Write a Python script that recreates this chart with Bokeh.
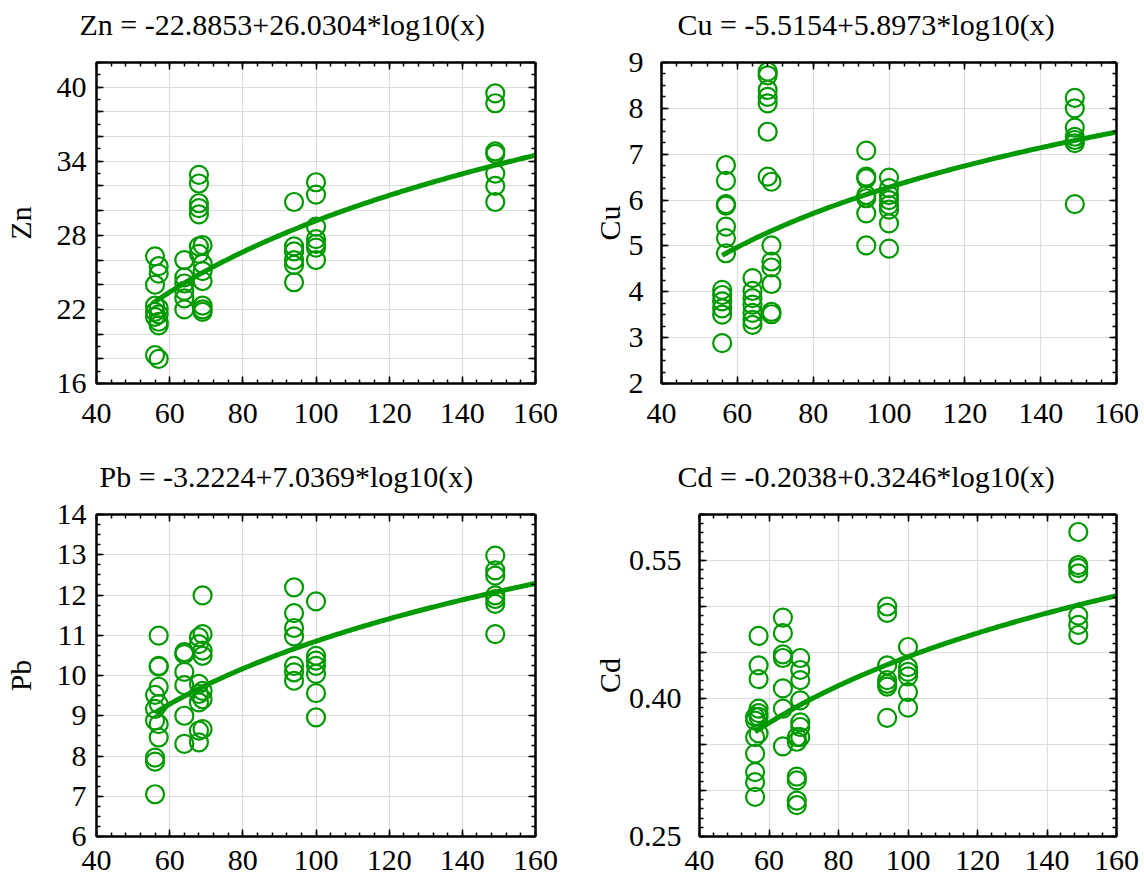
import numpy as np
from bokeh.plotting import figure
from bokeh.models import FixedTicker, LinearAxis, Range1d, Title
from bokeh.layouts import column, row
from bokeh.embed import file_html
from bokeh.resources import INLINE

GREEN = "#009900"
FONT = "Liberation Serif"
FS = "30px"

# ---- data ----
zn_x = [56]*6 + [57]*7 + [64]*6 + [68]*7 + [69]*7 + [94]*6 + [100]*7 + [149]*7
zn_y = [26.3, 24.0, 22.3, 21.8, 21.4, 18.3,
        25.5, 24.9, 22.1, 21.6, 21.0, 20.7, 18.0,
        26.0, 24.6, 24.1, 23.5, 22.9, 22.0,
        32.9, 32.2, 30.6, 30.2, 29.7, 27.1, 26.5,
        27.2, 25.7, 25.1, 24.3, 22.3, 22.0, 21.8,
        30.7, 27.1, 26.7, 26.0, 25.6, 24.2,
        32.3, 31.3, 28.7, 27.7, 27.3, 27.0, 26.0,
        39.5, 38.7, 34.8, 34.6, 33.0, 32.0, 30.7]

cu_x = [56]*6 + [57]*7 + [64]*7 + [68]*7 + [69]*7 + [94]*7 + [100]*8 + [149]*7
cu_y = [4.04, 3.93, 3.79, 3.64, 3.50, 2.88,
        6.76, 6.42, 5.91, 5.88, 5.42, 5.17, 4.84,
        4.30, 4.02, 3.86, 3.72, 3.54, 3.39, 3.28,
        8.80, 8.72, 8.40, 8.25, 8.11, 7.49, 6.51,
        6.40, 5.01, 4.66, 4.53, 4.17, 3.56, 3.51,
        7.08, 6.51, 6.47, 6.11, 6.04, 5.71, 5.01,
        6.49, 6.26, 6.11, 6.00, 5.89, 5.79, 5.49, 4.94,
        8.23, 8.00, 7.58, 7.38, 7.31, 7.24, 5.91]

pb_x = [56]*6 + [57]*7 + [64]*6 + [68]*7 + [69]*7 + [94]*7 + [100]*7 + [149]*7
pb_y = [9.52, 9.17, 8.88, 7.96, 7.86, 7.05,
        10.99, 10.24, 10.22, 9.72, 9.29, 8.79, 8.46,
        10.58, 10.53, 10.09, 9.76, 9.00, 8.30,
        10.95, 10.78, 9.79, 9.54, 9.33, 8.63, 8.34,
        11.99, 11.03, 10.62, 10.49, 9.62, 9.41, 8.67,
        12.19, 11.55, 11.18, 10.97, 10.24, 10.08, 9.87,
        11.84, 10.49, 10.37, 10.24, 10.04, 9.56, 8.96,
        12.98, 12.61, 12.48, 11.99, 11.90, 11.78, 11.03]

cd_x = [56]*7 + [57]*7 + [64]*7 + [68]*6 + [69]*7 + [94]*7 + [100]*6 + [149]*7
cd_y = [0.380, 0.376, 0.358, 0.340, 0.320, 0.309, 0.293,
        0.468, 0.436, 0.421, 0.389, 0.384, 0.380, 0.362,
        0.488, 0.471, 0.448, 0.444, 0.411, 0.389, 0.348,
        0.358, 0.353, 0.315, 0.311, 0.289, 0.284,
        0.444, 0.431, 0.420, 0.398, 0.374, 0.369, 0.358,
        0.500, 0.493, 0.436, 0.420, 0.416, 0.413, 0.379,
        0.456, 0.434, 0.429, 0.424, 0.407, 0.390,
        0.581, 0.545, 0.542, 0.536, 0.490, 0.480, 0.469]

# fit coefficients  y = a + b*log10(x)
zn_fit = [-22.8853, 26.0304]
cu_fit = [-5.5154, 5.8973]
pb_fit = [-3.2224, 7.0369]
cd_fit = [-0.2038, 0.3246]

titles = ["Zn = -22.8853+26.0304*log10(x)", "Cu = -5.5154+5.8973*log10(x)",
          "Pb = -3.2224+7.0369*log10(x)", "Cd = -0.2038+0.3246*log10(x)"]
ylabels = ["Zn", "Cu", "Pb", "Cd"]

X_RANGE = (40, 160)
x_major = [40, 60, 80, 100, 120, 140, 160]


def ticks(lo, hi, step, nd=3):
    n = int(round((hi - lo) / step))
    return [round(lo + i * step, nd) for i in range(n + 1)]


def style_axis(ax, ticker, fmt_over=None, show_labels=True, standoff=12):
    ax.ticker = ticker
    ax.axis_line_color = "black"
    ax.axis_line_width = 2
    ax.major_tick_in = 7
    ax.major_tick_out = 0
    ax.minor_tick_in = 4
    ax.minor_tick_out = 0
    ax.major_tick_line_color = "black"
    ax.major_tick_line_width = 1.5
    ax.minor_tick_line_color = "black"
    ax.minor_tick_line_width = 1.5
    ax.major_label_text_font = FONT
    ax.major_label_text_color = "black"
    ax.major_label_standoff = standoff
    if show_labels:
        ax.major_label_text_font_size = FS
        if fmt_over:
            ax.major_label_overrides = fmt_over
    else:
        # tick marks only: no label text at all
        ax.major_label_text_font_size = "1px"
        ax.major_label_text_color = None
        ax.major_label_standoff = 0
        ax.major_label_overrides = {t: "" for t in ticker.ticks}
    ax.axis_label_text_font = FONT
    ax.axis_label_text_font_size = FS
    ax.axis_label_text_font_style = "normal"
    ax.axis_label_text_color = "black"


def panel(xs, ys, fit, title, ylabel, yr, ymaj, ymin_t, yover, w, h, bl, br, bt, bb,
          toff, xstand, ystand, lstand):
    p = figure(width=w, height=h, x_range=Range1d(*X_RANGE), y_range=Range1d(*yr),
               output_backend="svg", toolbar_location=None,
               min_border_left=bl, min_border_right=br, min_border_top=bt, min_border_bottom=bb)
    p.title = Title(text=title, align="left", offset=toff, standoff=0, text_font=FONT,
                    text_font_size=FS, text_font_style="normal", text_color="black")
    xt = FixedTicker(ticks=x_major, minor_ticks=ticks(40, 160, 4))
    yt = FixedTicker(ticks=ymaj, minor_ticks=ymin_t)
    style_axis(p.xaxis[0], xt, standoff=xstand)
    style_axis(p.yaxis[0], yt, fmt_over=yover, standoff=ystand)
    p.yaxis[0].axis_label = ylabel
    p.yaxis[0].axis_label_standoff = lstand
    # top axis: tick marks only
    top = LinearAxis()
    style_axis(top, FixedTicker(ticks=x_major, minor_ticks=ticks(40, 160, 4)), show_labels=False)
    p.add_layout(top, "above")
    # invisible spacer between frame and title (white outward tick at the corner)
    spacer = LinearAxis(ticker=FixedTicker(ticks=[160], minor_ticks=[]),
                        major_tick_in=0, major_tick_out=22, major_tick_line_color="white",
                        minor_tick_in=0, minor_tick_out=0, axis_line_color=None,
                        major_label_text_color=None, major_label_text_font_size="1px",
                        major_label_standoff=0, major_label_overrides={160: ""})
    p.add_layout(spacer, "above")
    right = LinearAxis()
    style_axis(right, FixedTicker(ticks=ymaj, minor_ticks=ymin_t), show_labels=False)
    p.add_layout(right, "right")
    p.xgrid.ticker = xt
    p.ygrid.ticker = yt
    p.xgrid.grid_line_color = "#dddddd"
    p.ygrid.grid_line_color = "#dddddd"
    p.xgrid.grid_line_width = 1.2
    p.ygrid.grid_line_width = 1.2
    p.outline_line_color = "black"
    p.outline_line_width = 2
    p.background_fill_color = "white"
    p.border_fill_color = "white"
    p.scatter(xs, ys, size=18, marker="circle", fill_color=None, line_color=GREEN, line_width=2.2)
    cx = np.linspace(min(xs), X_RANGE[1], 200)
    cy = fit[0] + fit[1] * np.log10(cx)
    p.line(cx, cy, line_color=GREEN, line_width=5)
    return p


zn_ticks = ticks(16, 42, 2)
zn_over = {v: (str(int(v)) if (v - 16) % 6 == 0 else "") for v in zn_ticks}
cu_ticks = ticks(2, 9, 1)
pb_ticks = ticks(6, 14, 1)
cd_ticks = ticks(0.25, 0.60, 0.05, 2)
cd_over = {v: ("%.2f" % v if abs(((v - 0.25) / 0.15) - round((v - 0.25) / 0.15)) < 1e-6 else "") for v in cd_ticks}

# page origin is (0,0); left column 568 wide, right column 576; rows 452 + 431
p1 = panel(zn_x, zn_y, zn_fit, titles[0], ylabels[0], (16, 42), zn_ticks, ticks(16, 42, 1), zn_over,
           568, 452, 96, 33, 62, 69, -17, 20, 10, 17)
p2 = panel(cu_x, cu_y, cu_fit, titles[1], ylabels[1], (2, 9), cu_ticks, ticks(2, 9, 0.25), None,
           576, 452, 93, 28, 62, 69, 16, 20, 18, 0)
p3 = panel(pb_x, pb_y, pb_fit, titles[2], ylabels[2], (6, 14), pb_ticks, ticks(6, 14, 0.25), None,
           568, 431, 96, 33, 62, 47, 3, 14, 10, 17)
p4 = panel(cd_x, cd_y, cd_fit, titles[3], ylabels[3], (0.25, 0.60), cd_ticks, ticks(0.25, 0.60, 0.01), cd_over,
           576, 431, 131, 28, 62, 47, -22, 14, 18, 0)

layout = column(row(p1, p2), row(p3, p4))
open("out.html", "w").write(file_html(layout, INLINE))
